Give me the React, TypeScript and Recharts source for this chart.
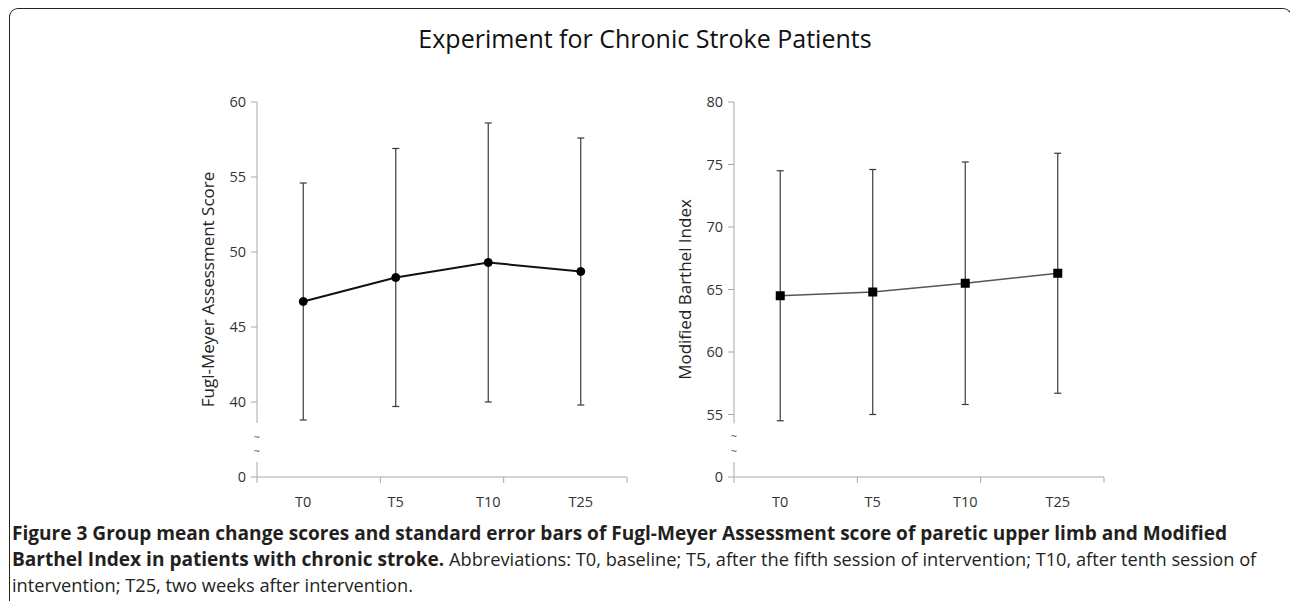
import { LineChart, Line, XAxis, YAxis, ErrorBar, ReferenceLine, ReferenceDot } from 'recharts';

const timePoints = ['T0', 'T5', 'T10', 'T25'];

// Fugl-Meyer Assessment (mean, standard error)
const fmaMean = [46.7, 48.3, 49.3, 48.7];
const fmaError = [7.9, 8.6, 9.3, 8.9];
const fmaTicks = [0, 40, 45, 50, 55, 60];

// Modified Barthel Index (mean, standard error)
const mbiMean = [64.5, 64.8, 65.5, 66.3];
const mbiError = [10.0, 9.8, 9.7, 9.6];
const mbiTicks = [0, 55, 60, 65, 70, 75, 80];

const captionLine1 = 'Figure 3 Group mean change scores and standard error bars of Fugl-Meyer Assessment score of paretic upper limb and Modified';
const captionLine2Bold = 'Barthel Index in patients with chronic stroke.';
const captionLine2 = ' Abbreviations: T0, baseline; T5, after the fifth session of intervention; T10, after tenth session of';
const captionLine3 = 'intervention; T25, two weeks after intervention.';

const AXIS = '#a8a8a8';
const FONT = '"Open Sans", "Noto Sans", sans-serif';

// width of a string in px at 100px font size
function textWidth(text: string, weight: string) {
  const ctx = document.createElement('canvas').getContext('2d');
  if (!ctx) return text.length * 55;
  ctx.font = `${weight} 100px ${FONT}`;
  return ctx.measureText(text).width;
}

interface PanelProps {
  label: string;
  means: number[];
  errors: number[];
  ticks: number[];
  cut: number; // values above the axis break are drawn shifted down by this
  lowerEnd: number; // axis segment below the break ends here (plot units)
  upperStart: number; // axis segment above the break starts here
  tildes: number[];
  lineColor: string;
  lineWidth: number;
  square?: boolean;
  left: number;
}

function SquareDot(props: { cx?: number; cy?: number; index?: number }) {
  const { cx, cy, index } = props;
  if (cx === undefined || cy === undefined) return null;
  return <rect key={`sq-${index}`} x={cx - 4.5} y={cy - 4.5} width={9} height={9} fill="#000" />;
}

function Panel(p: PanelProps) {
  const toPlot = (v: number) => (v > 0 ? v - p.cut : v);
  const data = timePoints.map((t, i) => ({ time: t, value: toPlot(p.means[i]), err: p.errors[i] }));
  const plotTicks = p.ticks.map(toPlot);
  const top = plotTicks[plotTicks.length - 1];
  const tickText = { fontSize: 14.5, fill: '#333', fontFamily: FONT };

  return (
    <div style={{ position: 'absolute', left: p.left, top: 70 }}>
      <LineChart width={450} height={443} data={data} margin={{ top: 32, right: 10, left: 0, bottom: 0 }}>
        {/* category labels, drawn below the boundary tick marks */}
        <XAxis
          xAxisId="labels"
          dataKey="time"
          scale="band"
          axisLine={false}
          tickLine={false}
          tickSize={0}
          tickMargin={14}
          height={30}
          tick={tickText}
        />
        {/* axis line with tick marks on the category boundaries */}
        <XAxis
          xAxisId="edge"
          type="number"
          domain={[0, 4]}
          allowDataOverflow
          ticks={[0, 1, 2, 3, 4]}
          tickFormatter={() => ''}
          height={6}
          tickSize={6}
          stroke={AXIS}
        />
        <YAxis
          domain={[0, top]}
          ticks={plotTicks}
          tickFormatter={(t: number) => (t === 0 ? '0' : String(t + p.cut))}
          axisLine={false}
          tickSize={6}
          tickMargin={5}
          stroke={AXIS}
          width={70}
          tick={tickText}
          label={{
            value: p.label,
            angle: -90,
            position: 'insideLeft',
            offset: 21,
            style: { textAnchor: 'middle', fontSize: 17, fill: '#222', fontFamily: FONT },
          }}
        />
        <ReferenceLine xAxisId="edge" segment={[{ x: 0, y: 0 }, { x: 0, y: p.lowerEnd }]} stroke={AXIS} />
        <ReferenceLine xAxisId="edge" segment={[{ x: 0, y: p.upperStart }, { x: 0, y: top }]} stroke={AXIS} />
        {p.tildes.map((y) => (
          <ReferenceDot
            key={y}
            xAxisId="edge"
            x={0}
            y={y}
            r={0}
            fill="none"
            stroke="none"
            label={{ value: '~', position: 'center', fontSize: 11, fill: '#555' }}
          />
        ))}
        <Line
          xAxisId="labels"
          dataKey="value"
          stroke={p.lineColor}
          strokeWidth={p.lineWidth}
          dot={p.square ? (props: any) => <SquareDot {...props} /> : { r: 4, fill: '#000', stroke: '#000', strokeWidth: 1 }}
          isAnimationActive={false}
        >
          <ErrorBar dataKey="err" direction="y" width={3.5} stroke="#3a3a3a" strokeWidth={1.2} isAnimationActive={false} />
        </Line>
      </LineChart>
    </div>
  );
}

export default function App() {
  // caption lines span 12 -> 1228 and 12 -> 1257 px in the figure
  const boldSize = (100 * 1216) / textWidth(captionLine1, 'bold');
  const boldPart = (textWidth(captionLine2Bold, 'bold') * boldSize) / 100;
  const normalSize = (100 * (1245 - boldPart)) / textWidth(captionLine2, 'normal');

  return (
    <div style={{ position: 'relative', width: 1290, height: 601, overflow: 'hidden', background: '#fff', fontFamily: FONT }}>
      <style>{'body { margin: 0; overflow: hidden; }'}</style>
      <div
        style={{
          position: 'absolute', left: 9, top: 8, width: 1283, height: 620, boxSizing: 'border-box',
          borderTop: '1.5px solid #222', borderLeft: '1.5px solid #222', borderRight: '1.5px solid #222',
          borderTopLeftRadius: 9, borderTopRightRadius: 9,
        }}
      />
      <div style={{ position: 'absolute', left: 0, top: 26, width: 1290, textAlign: 'center', fontSize: 25, lineHeight: '25px', color: '#111' }}>
        Experiment for Chronic Stroke Patients
      </div>
      <Panel
        label="Fugl-Meyer Assessment Score"
        means={fmaMean}
        errors={fmaError}
        ticks={fmaTicks}
        cut={35}
        lowerEnd={1.0}
        upperStart={3.6}
        tildes={[1.7, 2.65]}
        lineColor="#111"
        lineWidth={2}
        left={187}
      />
      <Panel
        label="Modified Barthel Index"
        means={mbiMean}
        errors={mbiError}
        ticks={mbiTicks}
        cut={50}
        lowerEnd={1.2}
        upperStart={4.3}
        tildes={[2.1, 3.25]}
        lineColor="#555"
        lineWidth={1.5}
        square
        left={664}
      />
      <div style={{ position: 'absolute', left: 12, top: 520, fontSize: normalSize, lineHeight: '26px', color: '#231f20', whiteSpace: 'nowrap' }}>
        <b style={{ fontSize: boldSize }}>{captionLine1}</b>
        <br />
        <b style={{ fontSize: boldSize }}>{captionLine2Bold}</b>{captionLine2}
        <br />
        {captionLine3}
      </div>
    </div>
  );
}
